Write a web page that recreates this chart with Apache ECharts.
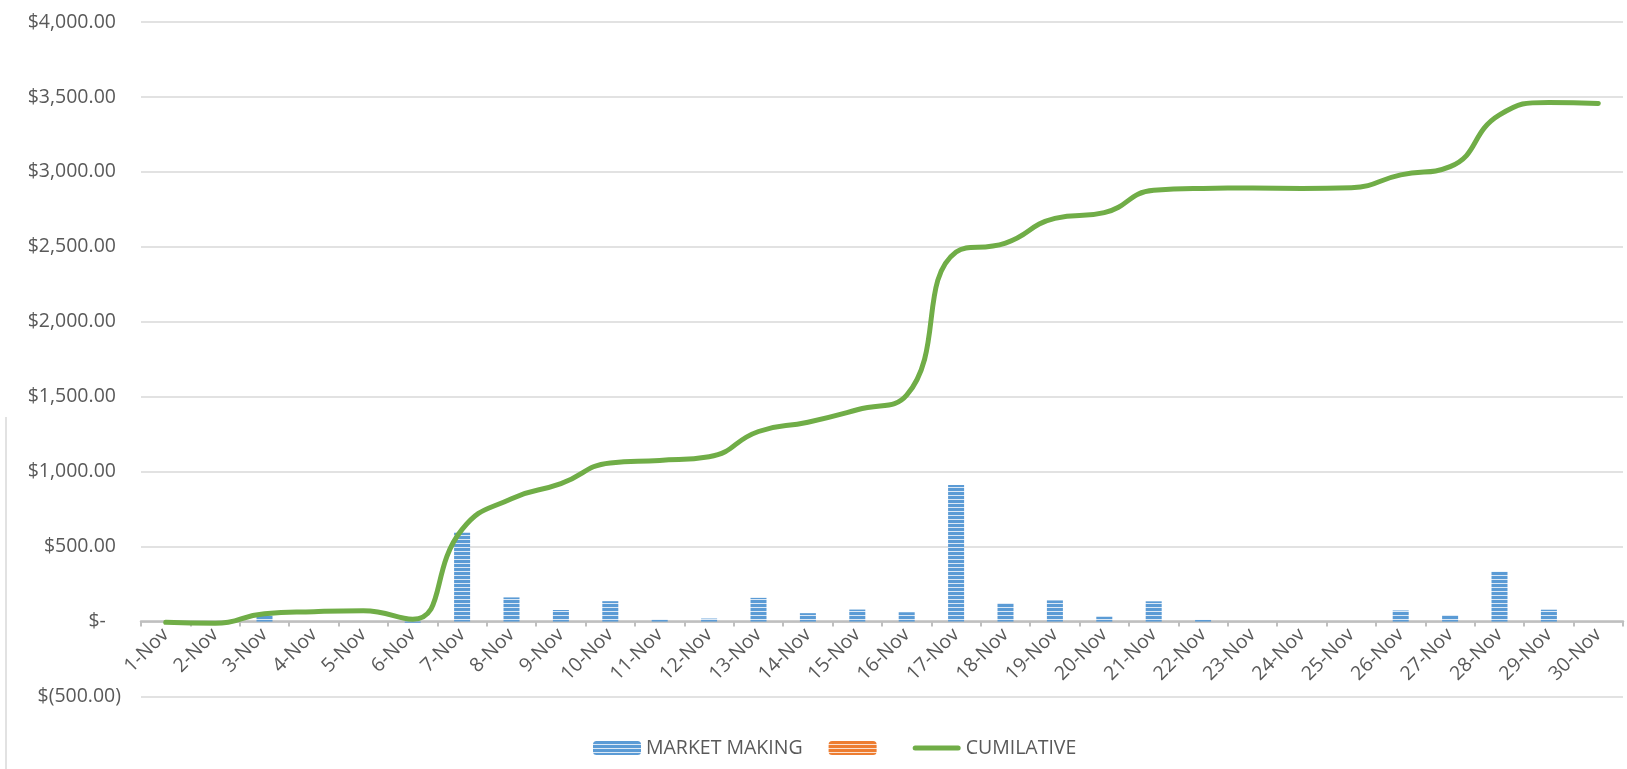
<!DOCTYPE html>
<html>
<head>
<meta charset="utf-8">
<script src="https://cdn.jsdelivr.net/npm/echarts@6/dist/echarts.min.js"></script>
<style>
html,body{margin:0;padding:0;background:#fff;}
#c{width:1627px;height:769px;}
</style>
</head>
<body>
<div id="c"></div>
<script>
const categories = ['1-Nov','2-Nov','3-Nov','4-Nov','5-Nov','6-Nov','7-Nov','8-Nov','9-Nov','10-Nov',
  '11-Nov','12-Nov','13-Nov','14-Nov','15-Nov','16-Nov','17-Nov','18-Nov','19-Nov','20-Nov',
  '21-Nov','22-Nov','23-Nov','24-Nov','25-Nov','26-Nov','27-Nov','28-Nov','29-Nov','30-Nov'];
const marketMaking = [0, 0, 43, 0, 0, -8, 593, 161, 77, 136, 13, 20, 158, 56, 80, 62, 911, 123, 141, 32, 135, 11, 0, 0, 0, 74, 43, 333, 79, 0];
const secondSeries = [0, 0, 0, 0, 0, 0, 0, 0, 0, 0, 0, 0, 0, 0, 0, 0, 0, 0, 0, 0, 0, 0, 0, 0, 0, 0, 0, 0, 0, 0];
const cumulative = [-5, -12, 52, 66, 72, 16, 615, 820, 920, 1058, 1075, 1100, 1268, 1330, 1413, 1510, 2465, 2525, 2690, 2728, 2877, 2890, 2892, 2890, 2895, 2980, 3035, 3380, 3463, 3457];
const seriesNames = ['MARKET MAKING', ' ', 'CUMILATIVE'];
const yMin = -500, yMax = 4000, yStep = 500;

function stripePattern(main, light) {
  const cv = document.createElement('canvas');
  cv.width = 4; cv.height = 4;
  const ctx = cv.getContext('2d');
  ctx.fillStyle = main; ctx.fillRect(0, 0, 4, 3);
  ctx.fillStyle = light; ctx.fillRect(0, 3, 4, 1);
  return { image: cv, repeat: 'repeat' };
}
function money(v) {
  if (v === 0) return '$-   ';
  const s = Math.abs(v).toLocaleString('en-US', {minimumFractionDigits: 2, maximumFractionDigits: 2});
  return v < 0 ? '$(' + s + ')' : '$' + s + ' ';
}
const FONT = '"Open Sans", sans-serif';
const TXT = '#595959';
const GRID_TOP = 22, GRID_BOTTOM = 72.5, H = 769;
const plotH = H - GRID_TOP - GRID_BOTTOM;
const zeroToBottom = plotH * (0 - yMin) / (yMax - yMin);
const chart = echarts.init(document.getElementById('c'), null, {renderer: 'canvas'});
chart.setOption({
  animation: false,
  backgroundColor: '#fff',
  textStyle: {fontFamily: FONT},
  grid: {left: 141, right: 4, top: GRID_TOP, bottom: GRID_BOTTOM, containLabel: false},
  legend: {
    left: 588, top: 733,
    itemWidth: 48, itemHeight: 14, itemGap: 26,
    symbolKeepAspect: true,
    textStyle: {color: TXT, fontSize: 19.5, fontFamily: FONT},
    data: [
      {name: seriesNames[0]},
      {name: seriesNames[1]},
      {name: seriesNames[2], icon: 'path://M2.5,0 L45.5,0 A2.5,2.5 0 0 1 45.5,5 L2.5,5 A2.5,2.5 0 0 1 2.5,0 Z', itemStyle: {color: '#70AD47'}}
    ]
  },
  xAxis: {
    type: 'category', data: categories,
    axisLine: {onZero: true, lineStyle: {color: '#bfbfbf', width: 2.5}},
    axisTick: {show: true, length: 5, lineStyle: {color: '#bfbfbf', width: 2}},
    axisLabel: {rotate: 45, margin: 10 - zeroToBottom, color: TXT, fontSize: 19.5, fontFamily: FONT, interval: 0},
    splitLine: {show: false}
  },
  yAxis: {
    type: 'value', min: yMin, max: yMax, interval: yStep,
    axisLine: {show: false}, axisTick: {show: false},
    axisLabel: {margin: 20, color: TXT, fontSize: 19.5, fontFamily: FONT, formatter: money},
    splitLine: {lineStyle: {color: '#d9d9d9', width: 1.5}}
  },
  series: [
    {name: seriesNames[0], type: 'bar', data: marketMaking, barWidth: 16, barGap: '-100%',
     itemStyle: {color: stripePattern('#5B9BD5', '#DCE9F6')}, z: 2},
    {name: seriesNames[1], type: 'bar', data: secondSeries, barWidth: 16,
     itemStyle: {color: stripePattern('#ED7D31', '#FBE0CF')}, z: 2},
    {name: seriesNames[2], type: 'line', data: cumulative, smooth: 0.5, symbol: 'none',
     lineStyle: {color: '#70AD47', width: 5, cap: 'round'}, itemStyle: {color: '#70AD47'}, z: 5}
  ],
  graphic: [
    {type: 'line', shape: {x1: 6, y1: 417, x2: 6, y2: 769}, style: {stroke: '#d9d9d9', lineWidth: 1.5}, silent: true}
  ]
});
</script>
</body>
</html>
